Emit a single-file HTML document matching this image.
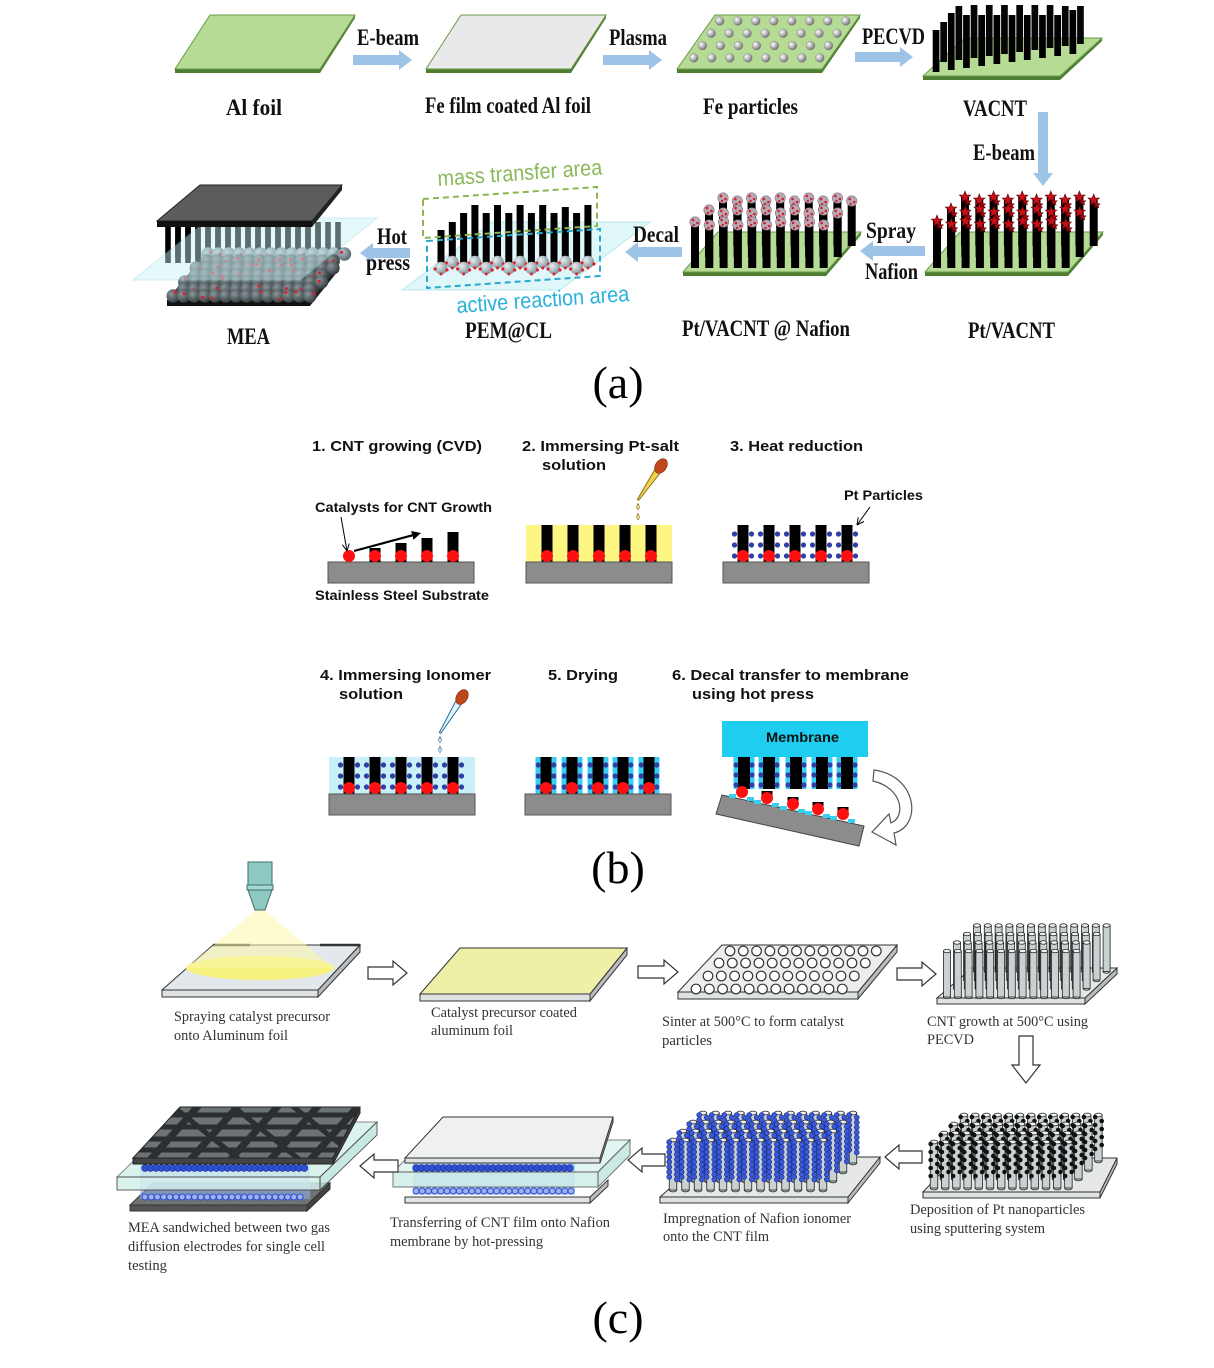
<!DOCTYPE html>
<html><head><meta charset="utf-8">
<style>
html,body{margin:0;padding:0;background:#fff;overflow:hidden}
svg{display:block}
.ta{font-family:"Liberation Serif",serif;font-weight:bold;font-size:23px;fill:#111}
.tb{font-family:"Liberation Sans",sans-serif;font-weight:bold;font-size:15px;fill:#111}
.tbs{font-family:"Liberation Sans",sans-serif;font-weight:bold;font-size:13.5px;fill:#111}
.tc{font-family:"Liberation Serif",serif;font-size:15px;fill:#333}
.pl{font-family:"Liberation Serif",serif;font-size:46px;fill:#000}
</style></head>
<body>
<svg id="s" width="1214" height="1368" viewBox="0 0 1214 1368" xmlns="http://www.w3.org/2000/svg">
<defs>
<radialGradient id="sph" cx="0.35" cy="0.35" r="0.7"><stop offset="0" stop-color="#ffffff"/><stop offset="0.6" stop-color="#a8a8a8"/><stop offset="1" stop-color="#666"/></radialGradient>
<radialGradient id="gsph" cx="0.35" cy="0.35" r="0.7"><stop offset="0" stop-color="#8a969a"/><stop offset="1" stop-color="#30383b"/></radialGradient>
<radialGradient id="msph" cx="0.35" cy="0.35" r="0.7"><stop offset="0" stop-color="#b4c4ca"/><stop offset="1" stop-color="#56646a"/></radialGradient>
<radialGradient id="lsph" cx="0.35" cy="0.35" r="0.7"><stop offset="0" stop-color="#e6eef2"/><stop offset="1" stop-color="#7f9096"/></radialGradient>
<clipPath id="cp"><polygon points="180,1107 360,1107 333,1158 133,1158"/></clipPath>
</defs>
<g id="g"></g>

<!-- (a) text -->
<text class="ta" x="357" y="45" textLength="62" lengthAdjust="spacingAndGlyphs">E-beam</text>
<text class="ta" x="609" y="45" textLength="58" lengthAdjust="spacingAndGlyphs">Plasma</text>
<text class="ta" x="862" y="44" textLength="63" lengthAdjust="spacingAndGlyphs">PECVD</text>
<text class="ta" x="226" y="115" textLength="56" lengthAdjust="spacingAndGlyphs">Al foil</text>
<text class="ta" x="425" y="113" textLength="166" lengthAdjust="spacingAndGlyphs">Fe film coated Al foil</text>
<text class="ta" x="703" y="114" textLength="95" lengthAdjust="spacingAndGlyphs">Fe particles</text>
<text class="ta" x="963" y="116" textLength="64" lengthAdjust="spacingAndGlyphs">VACNT</text>
<text class="ta" x="973" y="160" textLength="62" lengthAdjust="spacingAndGlyphs">E-beam</text>
<text class="ta" x="866" y="238" textLength="50" lengthAdjust="spacingAndGlyphs">Spray</text>
<text class="ta" x="865" y="279" textLength="53" lengthAdjust="spacingAndGlyphs">Nafion</text>
<text class="ta" x="633" y="242" textLength="46" lengthAdjust="spacingAndGlyphs">Decal</text>
<text class="ta" x="377" y="244" textLength="30" lengthAdjust="spacingAndGlyphs">Hot</text>
<text class="ta" x="366" y="270" textLength="44" lengthAdjust="spacingAndGlyphs">press</text>
<text class="ta" x="227" y="344" textLength="43" lengthAdjust="spacingAndGlyphs">MEA</text>
<text class="ta" x="465" y="338" textLength="87" lengthAdjust="spacingAndGlyphs">PEM@CL</text>
<text class="ta" x="682" y="336" textLength="168" lengthAdjust="spacingAndGlyphs">Pt/VACNT @ Nafion</text>
<text class="ta" x="968" y="338" textLength="87" lengthAdjust="spacingAndGlyphs">Pt/VACNT</text>
<text x="438" y="186" transform="rotate(-4 438 186)" textLength="165" lengthAdjust="spacingAndGlyphs" style="font-family:'Liberation Sans',sans-serif;font-size:22px;fill:#8ab85a">mass transfer area</text>
<text x="457" y="313" transform="rotate(-4 457 313)" textLength="173" lengthAdjust="spacingAndGlyphs" style="font-family:'Liberation Sans',sans-serif;font-size:22px;fill:#27b1dc">active reaction area</text>
<text class="pl" x="618" y="398" text-anchor="middle">(a)</text>

<!-- (b) text -->
<text class="tb" x="312" y="451" textLength="170" lengthAdjust="spacingAndGlyphs">1. CNT growing (CVD)</text>
<text class="tb" x="522" y="451" textLength="157" lengthAdjust="spacingAndGlyphs">2. Immersing Pt-salt</text>
<text class="tb" x="542" y="470" textLength="64" lengthAdjust="spacingAndGlyphs">solution</text>
<text class="tb" x="730" y="451" textLength="133" lengthAdjust="spacingAndGlyphs">3. Heat reduction</text>
<text class="tbs" x="315" y="512" textLength="177" lengthAdjust="spacingAndGlyphs">Catalysts for CNT Growth</text>
<text class="tbs" x="844" y="500" textLength="79" lengthAdjust="spacingAndGlyphs">Pt Particles</text>
<text class="tbs" x="315" y="600" textLength="174" lengthAdjust="spacingAndGlyphs">Stainless Steel Substrate</text>
<text class="tb" x="320" y="680" textLength="171" lengthAdjust="spacingAndGlyphs">4. Immersing Ionomer</text>
<text class="tb" x="339" y="699" textLength="64" lengthAdjust="spacingAndGlyphs">solution</text>
<text class="tb" x="548" y="680" textLength="70" lengthAdjust="spacingAndGlyphs">5. Drying</text>
<text class="tb" x="672" y="680" textLength="237" lengthAdjust="spacingAndGlyphs">6. Decal transfer to membrane</text>
<text class="tb" x="692" y="699" textLength="122" lengthAdjust="spacingAndGlyphs">using hot press</text>
<text class="tbs" x="766" y="742" textLength="73" lengthAdjust="spacingAndGlyphs">Membrane</text>
<text class="pl" x="618" y="883" text-anchor="middle">(b)</text>

<!-- (c) text -->
<text class="tc" x="174" y="1021" textLength="156" lengthAdjust="spacingAndGlyphs">Spraying catalyst precursor</text>
<text class="tc" x="174" y="1040" textLength="114" lengthAdjust="spacingAndGlyphs">onto Aluminum foil</text>
<text class="tc" x="431" y="1017" textLength="146" lengthAdjust="spacingAndGlyphs">Catalyst precursor coated</text>
<text class="tc" x="431" y="1035" textLength="82" lengthAdjust="spacingAndGlyphs">aluminum foil</text>
<text class="tc" x="662" y="1026" textLength="182" lengthAdjust="spacingAndGlyphs">Sinter at 500°C to form catalyst</text>
<text class="tc" x="662" y="1045" textLength="50" lengthAdjust="spacingAndGlyphs">particles</text>
<text class="tc" x="927" y="1026" textLength="161" lengthAdjust="spacingAndGlyphs">CNT growth at 500°C using</text>
<text class="tc" x="927" y="1044" textLength="47" lengthAdjust="spacingAndGlyphs">PECVD</text>
<text class="tc" x="910" y="1214" textLength="175" lengthAdjust="spacingAndGlyphs">Deposition of Pt nanoparticles</text>
<text class="tc" x="910" y="1233" textLength="135" lengthAdjust="spacingAndGlyphs">using sputtering system</text>
<text class="tc" x="663" y="1223" textLength="188" lengthAdjust="spacingAndGlyphs">Impregnation of Nafion ionomer</text>
<text class="tc" x="663" y="1241" textLength="106" lengthAdjust="spacingAndGlyphs">onto the CNT film</text>
<text class="tc" x="390" y="1227" textLength="220" lengthAdjust="spacingAndGlyphs">Transferring of CNT film onto Nafion</text>
<text class="tc" x="390" y="1246" textLength="153" lengthAdjust="spacingAndGlyphs">membrane by hot-pressing</text>
<text class="tc" x="128" y="1232" textLength="202" lengthAdjust="spacingAndGlyphs">MEA sandwiched between two gas</text>
<text class="tc" x="128" y="1251" textLength="197" lengthAdjust="spacingAndGlyphs">diffusion electrodes for single cell</text>
<text class="tc" x="128" y="1270" textLength="39" lengthAdjust="spacingAndGlyphs">testing</text>
<text class="pl" x="618" y="1333" text-anchor="middle">(c)</text>
</svg>

<script>
(function(){
const NS='http://www.w3.org/2000/svg';
const G=document.getElementById('g');
function el(t,a,p){const e=document.createElementNS(NS,t);for(const k in a)e.setAttribute(k,a[k]);(p||G).appendChild(e);return e;}
function P(pts){return pts.map(p=>(+p[0]).toFixed(1)+','+(+p[1]).toFixed(1)).join(' ');}
function poly(pts,fill,stroke,sw,op,p){return el('polygon',{points:P(pts),fill:fill,stroke:stroke||'none','stroke-width':sw||1,opacity:op==null?1:op},p);}
function rect(x,y,w,h,fill,stroke,sw,op){return el('rect',{x:x,y:y,width:w,height:h,fill:fill,stroke:stroke||'none','stroke-width':sw||1,opacity:op==null?1:op});}
function circ(cx,cy,r,fill,stroke,sw,p){return el('circle',{cx:cx,cy:cy,r:r,fill:fill,stroke:stroke||'none','stroke-width':sw||1},p);}
function line(x1,y1,x2,y2,col,sw,p){return el('line',{x1:x1,y1:y1,x2:x2,y2:y2,stroke:col,'stroke-width':sw},p);}
let seed=7;function rnd(){seed=(seed*16807)%2147483647;return seed/2147483647;}
function aline(x1,y1,x2,y2,sw,hl,hw,col,open){const dx=x2-x1,dy=y2-y1,L=Math.hypot(dx,dy),ux=dx/L,uy=dy/L;const bx=x2-ux*hl,by=y2-uy*hl;
 if(open){line(x1,y1,x2,y2,col,sw);line(x2,y2,bx-uy*hw,by+ux*hw,col,sw);line(x2,y2,bx+uy*hw,by-ux*hw,col,sw);}
 else{line(x1,y1,bx,by,col,sw);poly([[x2,y2],[bx-uy*hw,by+ux*hw],[bx+uy*hw,by-ux*hw]],col);}}
function star(cx,cy,R,r,fill,stroke){const pts=[];for(let k=0;k<10;k++){const a=-Math.PI/2+k*Math.PI/5;const rr=k%2?r:R;pts.push([cx+rr*Math.cos(a),cy+rr*Math.sin(a)]);}poly(pts,fill,stroke,0.6);}

/* ================= (a) ================= */
const GR='#b6db95';
function plateA(x0,y0,w,off,h,fill){
 poly([[x0,y0+h],[x0+w,y0+h],[x0+w+off,y0],[x0+w+off,y0+3],[x0+w,y0+h+4],[x0,y0+h+4]],'#4e7d32');
 poly([[x0+off,y0],[x0+off+w,y0],[x0+w,y0+h],[x0,y0+h]],fill,'#6a9a48',1);
}
const BA='#9dc3e6';
function arrR(x1,x2,y){poly([[x1,y-5],[x2-13,y-5],[x2-13,y-10],[x2,y],[x2-13,y+10],[x2-13,y+5],[x1,y+5]],BA);}
function arrL(x1,x2,y){poly([[x1,y-5],[x2+13,y-5],[x2+13,y-10],[x2,y],[x2+13,y+10],[x2+13,y+5],[x1,y+5]],BA);}
function arrD(x,y1,y2){poly([[x-5,y1],[x+5,y1],[x+5,y2-13],[x+10,y2-13],[x,y2],[x-10,y2-13],[x-5,y2-13]],BA);}

plateA(175,15,145,35,54,GR);
plateA(426,15,145,35,54,'#e9e9e9');
plateA(677,15,145,38,54,GR);
for(let r=0;r<4;r++){const y=21+r*12.3;const le=677+38*(1-(y-15)/54);for(let j=0;j<8;j++){circ(le+9+j*18,y,4.4,'url(#sph)','#888',0.4);}}
arrR(353,412,60);arrR(603,662,60);arrR(855,913,57);

// VACNT
plateA(923,38,137,42,38,GR);
(function(){
 const tops=[30,22,13,6];
 const items=[];
 for(let i=0;i<20;i++){const back=i%2==1;const x=936+i*7.6;let top=i<4?tops[i]:(back?5:15);if(i>=17)top=back?6:10;
  const bot=(back?63:72)-i*1.0;items.push({x,top,bot,back});}
 items.filter(t=>t.back).forEach(t=>rect(t.x-3.3,t.top,6.7,t.bot-t.top,'#050505'));
 items.filter(t=>!t.back).forEach(t=>rect(t.x-3.3,t.top,6.7,t.bot-t.top,'#000'));
})();
arrD(1043,112,186);

// Pt forests
function ptForest(x0,capFn){
 plateA(x0,232,143,35,40,GR);
 const rows=[{xs:x0+40,top:197,bot:246},{xs:x0+26,top:209,bot:257},{xs:x0+12,top:221,bot:268}];
 rows.forEach(R=>{for(let j=0;j<10;j++){const x=R.xs+j*14.3;const t=R.top+(j%2)*3;rect(x-4,t,8,R.bot-t,'#000');capFn(x,t);}});
}
ptForest(925,(x,t)=>{star(x,t,6,2.6,'#c8101a','#5a0000');star(x+3,t+5,3.5,1.6,'#b00010','#5a0000');});
ptForest(683,(x,t)=>{circ(x,t+1,5.2,'#b8a9b2','#8a7080',0.6);circ(x-2,t-1,1.3,'#d0202a');circ(x+2.5,t+2,1.3,'#d0202a');circ(x-1,t+4,1.2,'#d0202a');});
arrL(925,860,251);
arrL(682,625,252);

// PEM@CL
poly([[402,290],[560,290],[650,222],[492,222]],'#d2f4f6','#9be0e6',1,0.7);
(function(){
 const tops=[230,222,213,205,213,205,213,205,213,205,213,207,213,205];
 for(let pass=0;pass<2;pass++){
  for(let i=0;i<14;i++){const back=i%2==1;if((pass==0)!=back)continue;const x=441+i*11.3;const bot=back?262:268;rect(x-3.5,tops[i],7,bot-tops[i],'#000');
   circ(x,bot,6.3,'url(#lsph)');circ(x-6,bot+1,1.6,'#e02030');circ(x+6,bot+2,1.6,'#e02030');circ(x,bot+6,1.5,'#e02030');}
 }
})();
poly([[423,199],[597,187],[597,226],[423,238]],'none','#8cb54f',2);
G.lastChild.setAttribute('stroke-dasharray','6,4');
poly([[427,241],[600,229],[600,276],[427,288]],'none','#2aa8d0',2);
G.lastChild.setAttribute('stroke-dasharray','6,4');
arrL(410,360,253);

// MEA
poly([[167,300],[310,300],[338,266],[195,266]],'#3a3a3a');
poly([[167,300],[310,300],[310,306],[167,306]],'#111');
poly([[310,300],[338,266],[338,271],[310,306]],'#222');
for(let x=178;x<=338;x+=10){rect(x-2.8,222,5.6,36,'#000');}
for(let x=168;x<=325;x+=10){rect(x-2.8,225,5.6,38,'#000');}
for(let y=254;y<=298;y+=7){const sh=(300-y)*28/34;const off=((y-254)/7)%2?5:0;
 for(let x=170+sh+off;x<=307+sh;x+=10.5){circ(x,y,6.8,y<258?'url(#msph)':'url(#gsph)');if(rnd()<0.7)circ(x+(rnd()-0.5)*8,y+(rnd()-0.5)*8,1.5,'#e02030');}}
poly([[133,280],[300,280],[377,218],[210,218]],'#c9f1f3','#90dbe0',1,0.45);
poly([[200,185],[342,185],[312,221],[157,221]],'#5c5c5c','#222',1);
poly([[157,221],[312,221],[312,227],[157,227]],'#111');
poly([[312,221],[342,185],[342,190],[312,227]],'#222');

/* ================= (b) ================= */
const SUBC='#8c8c8c';
function sub(x,y){rect(x,y,146,21,SUBC,'#555',1);}
function tube(cx,top,bot){rect(cx-5.5,top,11,bot-top,'#000');}
function red(cx,cy){circ(cx,cy,6,'#ff1010');}
function bdots(cx,ys,d){d=d||8.5;ys.forEach(y=>{circ(cx-d,y,2.6,'#2e3fa8');circ(cx+d,y,2.6,'#2e3fa8');});}
function dropper(bx,by,tx,ty,bodyFill,bodyStroke,dropFill){
 const dx=tx-bx,dy=ty-by,L=Math.hypot(dx,dy),ux=dx/L,uy=dy/L,nx=-uy,ny=ux;
 const sx=bx+ux*6,sy=by+uy*6;
 poly([[sx+nx*3.2,sy+ny*3.2],[sx-nx*3.2,sy-ny*3.2],[tx-nx*0.8,ty-ny*0.8],[tx+nx*0.8,ty+ny*0.8]],bodyFill,bodyStroke,1);
 const ang=Math.atan2(dy,dx)*180/Math.PI;
 el('ellipse',{cx:bx,cy:by,rx:8,ry:5.5,fill:'#c0471b',stroke:'#7a2a10','stroke-width':0.6,transform:'rotate('+ang+' '+bx+' '+by+')'});
 [[tx,ty+7],[tx,ty+17]].forEach(p=>{el('path',{d:'M'+p[0]+','+(p[1]-3.5)+' Q'+(p[0]+2.6)+','+(p[1]+0.5)+' '+p[0]+','+(p[1]+2.6)+' Q'+(p[0]-2.6)+','+(p[1]+0.5)+' '+p[0]+','+(p[1]-3.5)+'Z',fill:dropFill,stroke:bodyStroke,'stroke-width':0.7});});
}
// step 1
sub(328,562);
red(349,556);
[[375,548],[401,543],[427,538],[453,532]].forEach(t=>{tube(t[0],t[1],562);red(t[0],556);});
aline(354,551,421,533,2.2,9,4.5,'#000');
aline(341,517,347,551,1,7,3.5,'#000',true);
// step 2
rect(526,525,146,37,'#fdf683');
[547,573,599,625,651].forEach(x=>{tube(x,525,562);red(x,556);});
sub(526,562);
dropper(661,466,638,500,'#f3d24a','#8a7020','#f7eb96');
// step 3
[743,769,795,821,847].forEach(x=>{tube(x,525,562);bdots(x,[534,545,556]);red(x,556);});
sub(723,562);
aline(870,507,857,525,1,7,3.5,'#000',true);
// step 4
rect(329,757,146,37,'#c8f0f8');
[349,375,401,427,453].forEach(x=>{tube(x,757,794);bdots(x,[765,776,787]);red(x,788);});
sub(329,794);
dropper(462,697,440,733,'#e2f4fb','#2a6fa0','#e8f6fc');
// step 5
[546,572,598,623,649].forEach(x=>{rect(x-10.5,757,21,37,'#38cff2');tube(x,757,794);bdots(x,[765,776,787],7.8);red(x,788);});
sub(525,794);
// step 6
rect(722,721,146,36,'#1fcdf0');
[744,769,796,822,847].forEach(x=>{rect(x-10.5,757,21,32,'#38cff2');rect(x-6,757,12,32,'#000');bdots(x,[765,775,785],8);});
poly([[722,795],[864,826],[859,846],[716,814]],'#8c8c8c','#444',1);
[[742,793],[767,799],[793,805],[818,810],[843,815]].forEach((p,i)=>{
 rect(p[0]-13,p[1]+1,7,4,'#38cff2');rect(p[0]+5,p[1]+4,7,4,'#38cff2');
 if(i>0)rect(p[0]-5.5,p[1]-8,11,8,'#000');
 red(p[0],p[1]-1);
});
el('path',{d:'M874,770 C918,776 922,826 894,833 L896,845 L872,832 L889,814 L891,823 C906,817 903,788 873,781 Z',fill:'#fff',stroke:'#555','stroke-width':1.2});

/* ================= (c) ================= */
function plateC(tl,tr,br,bl,th,topFill,frontFill){
 poly([bl,br,[br[0],br[1]+th],[bl[0],bl[1]+th]],frontFill||'#dfe2e2','#333',1);
 poly([br,tr,[tr[0],tr[1]+th],[br[0],br[1]+th]],'#b9bdbd','#333',1);
 poly([tl,tr,br,bl],topFill,'#333',1);
}
function hArr(pts){poly(pts,'#fff','#333',1.2);}
function hArrR(x1,x2,y){hArr([[x1,y-6],[x2-14,y-6],[x2-14,y-12],[x2,y],[x2-14,y+12],[x2-14,y+6],[x1,y+6]]);}
function hArrL(x1,x2,y){hArr([[x1,y-6],[x2+14,y-6],[x2+14,y-12],[x2,y],[x2+14,y+12],[x2+14,y+6],[x1,y+6]]);}
function hArrD(x,y1,y2){hArr([[x-7,y1],[x+7,y1],[x+7,y2-18],[x+14,y2-18],[x,y2],[x-14,y2-18],[x-7,y2-18]]);}
function cyl(x,top,bot,w){
 el('ellipse',{cx:x,cy:bot,rx:w/2,ry:w/4,fill:'#c9d1d3',stroke:'#222','stroke-width':0.8});
 rect(x-w/2,top,w,bot-top,'#c9d1d3','#222',0.8);
 el('ellipse',{cx:x,cy:top,rx:w/2,ry:w/4,fill:'#eef2f2',stroke:'#222','stroke-width':0.8});
}
function forestC(x0,y0,n,dx,rows,shx,shy,h,w,dec){
 for(let r=rows-1;r>=0;r--){for(let j=0;j<n;j++){const x=x0+r*shx+j*dx;const bot=y0-r*shy;const top=bot-h;cyl(x,top,bot,w);if(dec)dec(x,top,bot);}}
}
// c1
plateC([213,945],[360,945],[318,990],[162,990],7,'#e3e8ec');
line(213,945,250,945,'#333',2.5);line(320,945,360,945,'#333',2.5);
el('ellipse',{cx:260,cy:968,rx:74,ry:12,fill:'#f8f27a',opacity:0.95});
poly([[256,910],[264,910],[334,968],[186,968]],'#fbf7a8','none',1,0.55);
rect(248,862,24,25,'#8fc9c3','#3d6d68',1);
rect(247,885,26,5,'#a6d8d2','#3d6d68',1);
poly([[248,890],[272,890],[265,910],[255,910]],'#8fc9c3','#3d6d68',1);
hArrR(368,407,973);
// c2
plateC([460,948],[627,948],[590,994],[420,994],7,'#eef0a8');
hArrR(638,678,972);
// c3
plateC([722,945],[897,945],[858,992],[678,992],7,'#eceeee');
[[950,724],[962,713],[975,702],[988,690]].forEach(rw=>{for(let j=0;j<12;j++){const x=rw[1]+6+j*13.3;circ(x,rw[0]+1,4.8,'#fff','#333',1.2);}});
hArrR(897,936,974);
// c4
plateC([972,968],[1117,968],[1085,998],[937,998],6,'#e6e8e8');
forestC(947,997,13,10.8,4,10,8.5,46,7);
hArrD(1026,1036,1083);
// c8
plateC([955,1158],[1117,1158],[1100,1192],[923,1192],6,'#e6e8e8');
forestC(934,1188,13,11.2,4,10,9,46,7.5,(x,top,bot)=>{for(let k=0,y=top+2;y<bot-8;y+=4,k++){circ(x+(k%2?3.3:-3.3),y,2.3,'#111');}});
hArrL(922,885,1157);
// c7
plateC([705,1157],[880,1157],[848,1197],[660,1197],6,'#e6e8e8');
forestC(673,1190,13,12.5,4,10,9,50,7.5,(x,top,bot)=>{for(let k=0,y=top+2;y<bot-12;y+=5,k++){circ(x-3.8,y,2.5,'#3a5ad8','#1d2f8a',0.6);circ(x+3.8,y+2.5,2.5,'#3a5ad8','#1d2f8a',0.6);}});
hArrL(665,628,1160);
// c6
poly([[405,1197],[590,1197],[590,1203],[405,1203]],'#e0e4e4','#333',1);
poly([[590,1197],[608,1180],[608,1186],[590,1203]],'#b9bdbd','#333',1);
poly([[393,1172],[598,1172],[630,1140],[425,1140]],'#d8f2ee','#555',1,0.75);
rect(413,1163,162,32,'#8fb0ee','none',1,0.55);
for(let x=416;x<=572;x+=6.2)circ(x,1191,3,'#9fb2ee','#2d4fd4',1);
rect(393,1172,205,15,'#cdeee8','#555',1,0.8);
poly([[598,1172],[630,1140],[630,1155],[598,1187]],'#bfe6df','#555',1,0.8);
for(let x=416;x<=572;x+=5.5)circ(x,1168,3.4,'#2d4fd4','#1a2a90',0.6);
plateC([443,1117],[613,1117],[600,1158],[405,1158],5,'#eef0f2');
hArrL(398,360,1166);
// c5
poly([[130,1205],[307,1205],[330,1183],[153,1183]],'#6f7374','#333',1);
poly([[130,1205],[307,1205],[307,1211],[130,1211]],'#555','#333',1);
poly([[307,1205],[330,1183],[330,1189],[307,1211]],'#444','#333',1);
rect(140,1163,170,36,'#8fb0ee','none',1,0.55);
for(let x=145;x<=305;x+=6.2)circ(x,1197,3,'#9fb2ee','#2d4fd4',1);
poly([[117,1177],[320,1177],[377,1122],[174,1122]],'#cdeee8','#555',1,0.7);
rect(117,1177,203,13,'#d4f0ec','#444',1,0.85);
poly([[320,1177],[377,1122],[377,1135],[320,1190]],'#bfe6df','#444',1,0.85);
for(let x=145;x<=305;x+=5.5)circ(x,1168,3.4,'#2d4fd4','#1a2a90',0.6);
poly([[180,1107],[360,1107],[333,1158],[133,1158]],'#6d7274','#222',1);
poly([[133,1158],[333,1158],[333,1164],[133,1164]],'#444','#222',1);
poly([[333,1158],[360,1107],[360,1113],[333,1164]],'#3a3e40','#222',1);
const cg=el('g',{'clip-path':'url(#cp)'});
[1115,1127,1139,1150].forEach(y=>line(110,y,390,y,'#2b2f31',5,cg));
[150,190,230,270,310,350].forEach(x=>line(x,1160,x+50,1104,'#2b2f31',7,cg));
[170,230,290].forEach(x=>line(x,1104,x+70,1160,'#2b2f31',5,cg));
})();
</script>
</body></html>
